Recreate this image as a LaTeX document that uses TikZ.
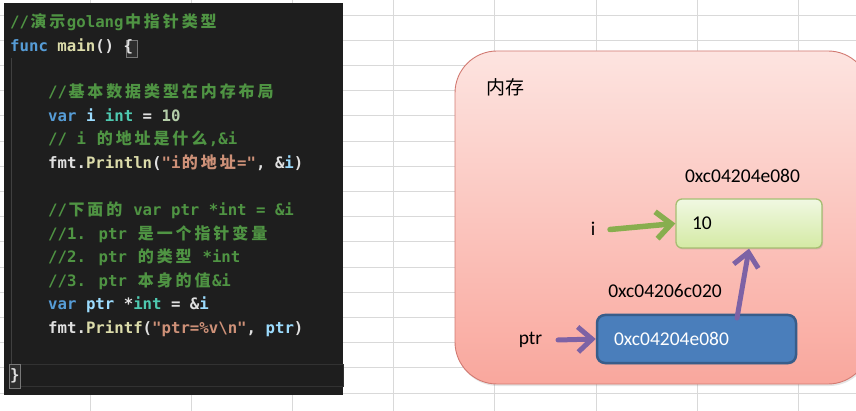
\documentclass[tikz,border=0pt]{standalone}
\usepackage{fontspec}
\usetikzlibrary{arrows.meta,shadows}
\newfontfamily\codef{DejaVu Sans Mono}
\newfontfamily\cjkf{Noto Sans CJK SC}
\newfontfamily\lblf{Carlito}
\definecolor{panel}{HTML}{1E1E1E}
\definecolor{cmt}{HTML}{4F9443}
\definecolor{kw}{HTML}{569CD6}
\definecolor{fn}{HTML}{DCDCAA}
\definecolor{vr}{HTML}{9CDCFE}
\definecolor{ty}{HTML}{4EC9B0}
\definecolor{num}{HTML}{B5CEA8}
\definecolor{str}{HTML}{CE9178}
\definecolor{plain}{HTML}{E0E0E0}
\definecolor{grid}{HTML}{D9D9D9}
\definecolor{gar}{HTML}{88AE4E}
\definecolor{par}{HTML}{7D62A5}
\definecolor{guide}{HTML}{404040}
\definecolor{curline}{HTML}{323232}
\definecolor{brkedge}{HTML}{787878}
\definecolor{brkfill}{HTML}{2D2D2D}
\definecolor{memedge}{HTML}{D27A72}
\definecolor{memtop}{HTML}{FDE4E0}
\definecolor{membot}{HTML}{F9A79D}
\definecolor{gedge}{HTML}{A6BE72}
\definecolor{gtop}{HTML}{F0F8E2}
\definecolor{gbot}{HTML}{D4EAA4}
\definecolor{bedge}{HTML}{385D8A}
\definecolor{bfill}{HTML}{4A7EBB}
\newcommand\cjs[1]{\cjsloop#1\relax}
\def\cjsloop#1{\ifx\relax#1\else\makebox[18.9pt]{\cjkf\bfseries\fontsize{16}{18}\selectfont #1}\expandafter\cjsloop\fi}
\begin{document}
\begin{tikzpicture}[x=1pt,y=-1pt,
  code/.style={anchor=base west, inner sep=0pt, font=\codef\bfseries\fontsize{15.7}{18}\selectfont, text=plain},
  lbl/.style={inner sep=0pt, font=\lblf\fontsize{19.5}{22}\selectfont, text=black},
  membox/.style={draw=memedge, line width=0.9pt, rounded corners=42pt, top color=memtop, bottom color=membot, minimum width=415pt, minimum height=333pt},
  gbox/.style={draw=gedge, line width=1.3pt, rounded corners=6pt, top color=gtop, bottom color=gbot, minimum width=146pt, minimum height=49pt, text width=114pt, inner xsep=16pt, align=left, font=\lblf\fontsize{19.5}{22}\selectfont, drop shadow={opacity=0.25, shadow xshift=1pt, shadow yshift=-1.5pt}},
  bbox/.style={draw=bedge, line width=2.5pt, rounded corners=8pt, fill=bfill, minimum width=199pt, minimum height=48pt, text width=165pt, inner xsep=17pt, align=left, text=white, font=\lblf\fontsize{19.5}{22}\selectfont, drop shadow={opacity=0.25, shadow xshift=1pt, shadow yshift=-1.5pt}},
  garrow/.style={draw=gar, line width=5.5pt, line cap=round, -{Straight Barb[length=15pt, width=27pt, line width=5.5pt]}},
  parrow/.style={draw=par, line width=5pt, line cap=round, -{Straight Barb[length=14pt, width=25pt, line width=5pt]}},
  brk/.style={draw=brkedge, line width=0.8pt, fill=brkfill}
]
\useasboundingbox (0,0) rectangle (856,411);
\clip (0,0) rectangle (856,411);
\fill[white] (0,0) rectangle (856,411);
% spreadsheet grid
\foreach \k in {0,...,15} \draw[grid, line width=0.9pt] (0,15+25.2*\k) -- (856,15+25.2*\k);
\foreach \x in {90,191,292,393,494,596,697,798} \draw[grid, line width=0.9pt] (\x,0) -- (\x,411);
% code panel
\fill[panel] (4,3) rectangle (343,395);
\draw[guide, line width=0.8pt] (11,58) -- (11,364);
\draw[curline, line width=0.8pt] (10,364) rectangle (343,386);
\draw[brk] (126,40) rectangle (137,57);
\draw[brk] (9,364) rectangle (20,388);
\node[code] (c0) at (10,28) {\textcolor{cmt}{//\cjs{演示}golang\cjs{中指针类型}}};
\node[code] (c1) at (10,52) {\textcolor{kw}{func} \textcolor{fn}{main}() \{};
\node[code] (c3) at (48,98) {\textcolor{cmt}{//\cjs{基本数据类型在内存布局}}};
\node[code] (c4) at (48,122) {\textcolor{kw}{var} \textcolor{vr}{i} \textcolor{ty}{int} = \textcolor{num}{10}};
\node[code] (c5) at (48,145) {\textcolor{cmt}{// i \cjs{的地址是什么},\&i}};
\node[code] (c6) at (48,169) {fmt.\textcolor{fn}{Println}(\textcolor{str}{"i\cjs{的地址}="}, \&\textcolor{vr}{i})};
\node[code] (c8) at (48,216) {\textcolor{cmt}{//\cjs{下面的} var ptr *int = \&i}};
\node[code] (c9) at (48,240) {\textcolor{cmt}{//1. ptr \cjs{是一个指针变量}}};
\node[code] (c10) at (48,263) {\textcolor{cmt}{//2. ptr \cjs{的类型} *int}};
\node[code] (c11) at (48,287) {\textcolor{cmt}{//3. ptr \cjs{本身的值}\&i}};
\node[code] (c12) at (48,310) {\textcolor{kw}{var} \textcolor{vr}{ptr} *\textcolor{ty}{int} = \&\textcolor{vr}{i}};
\node[code] (c13) at (48,334) {fmt.\textcolor{fn}{Printf}(\textcolor{str}{"ptr=\%v\textbackslash n"}, \textcolor{vr}{ptr})};
\node[code] (c15) at (10,380) {\}};
% memory
\node[membox, drop shadow={opacity=0.2, shadow xshift=1pt, shadow yshift=-2pt}] (mem) at (662.5,217.5) {};
\node[inner sep=0pt, font=\cjkf\fontsize{19}{22}\selectfont] (memlbl) at (505.5,87) {内存};
\node[lbl] (iaddr) at (742.5,176) {0xc04204e080};
\node[gbox] (ibox) at (749,223.5) {10};
\node[lbl] (ilbl) at (593,229) {i};
\node[lbl] (paddr) at (665,291) {0xc04206c020};
\node[bbox] (pbox) at (696.5,339) {0xc04204e080};
\node[lbl] (plbl) at (530.5,340) {ptr};
\coordinate (itail) at (610,229.5);
\coordinate (ptail) at (737,318);
\coordinate (pltail) at (558,340);
\draw[garrow] (itail) -- (ibox.west);
\draw[parrow] (ptail) -- (ibox.south);
\draw[parrow] (pltail) -- (pbox.west);
\end{tikzpicture}
\end{document}
